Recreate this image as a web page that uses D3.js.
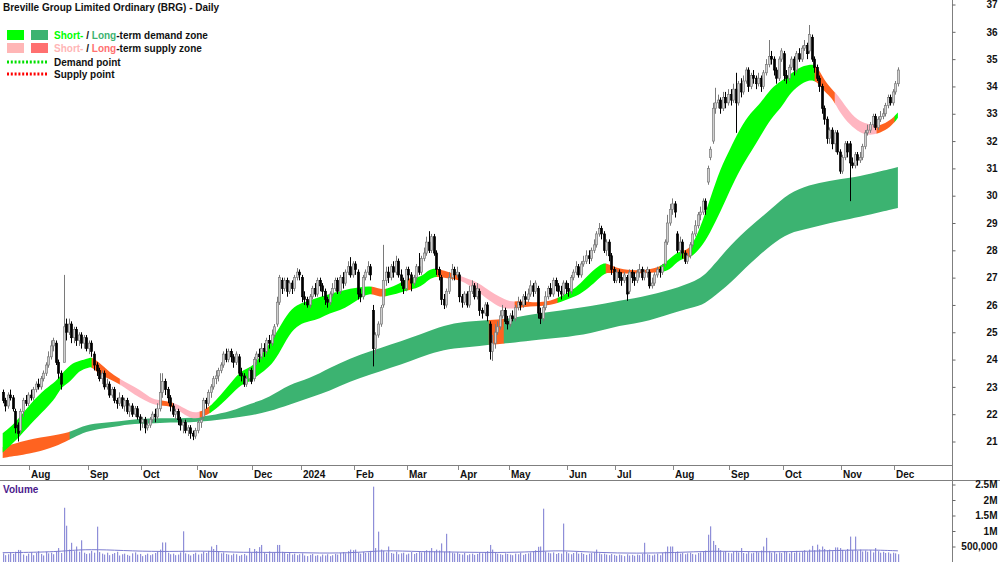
<!DOCTYPE html>
<html><head><meta charset="utf-8">
<script src="https://cdn.jsdelivr.net/npm/d3@7"></script>
<style>html,body{margin:0;padding:0;background:#fff;}svg{display:block;font-family:"Liberation Sans",Arial,sans-serif;}</style>
</head><body><svg id="c" width="1000" height="562"></svg>
<script>
// ---- Daily candles, 17 Jul 2023 .. 3 Dec 2024 (trading days) ----
const opens=[22.8,22.5,22.3,22.7,22.6,22.1,21.6,21.4,22.1,22.5,
22.4,22.7,22.6,22.9,23.1,23.0,23.3,23.5,23.8,24.1,
24.5,24.6,23.9,23.5,23.9,25.3,25.0,25.3,24.8,25.1,
24.7,24.9,24.6,24.8,24.4,24.6,24.2,23.8,23.6,23.3,
23.5,23.0,23.1,22.7,22.9,22.5,22.4,22.6,22.3,22.5,
22.1,22.3,22.0,22.2,21.9,21.7,21.8,21.5,21.6,21.8,
22.0,21.9,22.2,22.8,23.2,22.9,22.6,22.3,22.0,22.1,
21.8,21.6,21.7,21.4,21.5,21.3,21.2,21.4,21.7,21.9,
22.5,22.4,22.8,23.0,23.3,23.4,23.6,23.8,24.2,24.0,
24.3,24.1,23.9,24.1,23.5,23.4,23.1,23.3,23.6,23.3,
24.0,24.2,24.1,24.4,24.3,24.7,24.6,24.9,25.3,26.1,
26.9,26.6,26.9,26.5,26.8,26.6,27.0,27.2,27.0,26.3,
26.2,26.0,26.3,26.6,26.4,26.9,26.7,26.5,26.2,26.1,
26.4,26.6,26.9,26.5,27.0,26.8,27.2,27.4,27.1,27.5,
27.2,26.4,26.3,27.0,27.2,27.4,25.8,24.4,24.9,25.3,
26.0,26.9,27.2,27.0,27.4,27.2,27.6,27.1,26.9,26.6,
27.3,27.1,26.8,27.0,27.4,27.2,27.7,27.9,28.3,28.0,
28.5,27.9,27.3,27.0,26.2,26.0,26.5,27.0,27.3,27.1,
27.1,26.3,26.1,26.4,26.0,26.5,26.7,26.3,26.5,25.8,
25.7,26.0,25.3,24.3,24.6,25.0,25.2,25.6,25.8,25.4,
25.3,25.6,25.5,25.9,26.1,26.0,26.3,26.2,26.4,26.7,
26.5,26.6,25.7,25.5,25.9,26.3,26.6,26.4,26.9,26.7,
26.5,26.4,26.8,26.6,26.5,27.0,27.2,27.4,27.1,27.5,
27.6,27.8,27.7,28.0,28.2,28.6,28.8,28.6,28.0,28.3,
27.8,27.3,26.9,27.2,27.0,26.9,27.0,26.5,27.2,27.0,
26.9,27.2,27.3,27.0,27.2,27.2,26.7,26.8,27.1,27.3,
27.2,27.5,28.3,29.0,29.5,29.7,28.6,28.0,28.3,27.9,
27.6,27.8,28.2,28.6,28.9,29.3,29.4,29.8,30.5,31.4,
32.0,33.2,33.4,33.5,33.2,33.6,33.4,33.7,33.5,33.9,
33.4,34.1,33.8,34.2,34.6,34.0,34.4,34.3,34.1,34.3,
34.0,34.5,34.8,35.1,35.0,34.6,34.3,35.0,35.2,34.4,
34.3,34.7,35.0,34.6,35.2,35.0,35.4,35.5,35.3,35.8,
35.0,34.7,34.3,34.0,33.2,32.8,32.1,32.4,31.9,32.3,
31.6,30.9,31.4,31.9,31.9,31.2,31.1,31.5,31.3,31.4,
31.8,32.3,32.4,32.6,32.9,32.5,32.8,32.9,33.0,33.3,
33.6,33.4,33.8,34.1];
const highs=[22.9,22.6,22.8,22.9,22.7,22.2,21.7,22.2,22.6,22.7,
22.8,22.9,23.0,23.2,23.3,23.4,23.6,23.9,24.3,24.7,
24.8,24.7,24.0,23.6,27.1,25.5,25.5,25.4,25.2,25.2,
25.0,25.0,24.9,24.9,24.7,24.7,24.3,23.9,23.7,23.6,
23.6,23.3,23.2,23.0,23.0,22.6,22.8,22.7,22.6,22.6,
22.4,22.4,22.3,22.3,22.0,21.9,21.9,21.8,21.9,22.1,
22.2,22.4,23.5,23.5,23.3,23.0,22.7,22.4,22.2,22.2,
21.9,21.8,21.8,21.6,21.6,21.4,21.5,21.8,21.9,22.6,
22.6,22.9,23.1,23.4,23.6,23.7,23.9,24.3,24.4,24.4,
24.4,24.2,24.3,24.2,23.7,23.5,23.4,23.7,23.7,24.1,
24.3,24.4,24.6,24.6,24.8,24.9,25.1,25.3,26.3,27.1,
27.0,27.0,27.0,26.9,26.9,27.1,27.35,27.3,27.1,26.5,
26.3,26.4,26.7,26.8,27.0,27.0,26.8,26.6,26.3,26.5,
26.8,27.0,27.0,27.1,27.2,27.3,27.6,27.75,27.6,27.6,
27.3,26.6,27.1,27.3,27.6,27.5,26.0,25.0,25.4,26.0,
28.2,27.4,27.4,27.5,27.6,27.8,27.7,27.3,27.0,27.4,
27.4,27.2,27.1,27.5,27.9,27.8,28.1,28.5,28.7,28.6,
28.6,28.0,27.4,27.1,26.4,26.6,27.2,27.5,27.4,27.4,
27.2,26.4,26.5,26.5,26.7,26.9,26.8,26.8,26.6,25.9,
26.1,26.1,25.4,24.9,25.3,25.4,25.8,26.0,25.9,25.6,
25.7,25.8,26.0,26.3,26.2,26.4,26.5,26.6,26.9,26.8,
26.9,26.7,25.9,26.0,26.5,26.7,26.8,27.0,27.0,26.8,
26.7,26.9,26.9,26.8,27.1,27.3,27.6,27.5,27.6,27.8,
28.0,28.0,28.1,28.4,28.7,29.0,28.9,28.7,28.4,28.4,
27.9,27.4,27.3,27.3,27.2,27.2,27.1,27.3,27.3,27.2,
27.3,27.5,27.4,27.3,27.4,27.3,27.0,27.2,27.4,27.4,
27.5,28.4,29.3,29.7,29.9,29.8,28.7,28.5,28.4,28.0,
27.9,28.3,28.7,29.1,29.4,29.6,29.9,29.9,31.1,31.8,
33.4,33.95,33.7,33.6,33.8,33.8,33.9,33.9,34.1,34.5,
34.2,34.3,34.4,34.7,34.7,34.5,34.6,34.4,34.5,34.4,
34.6,35.0,35.7,35.3,35.1,34.7,35.1,35.4,35.3,34.6,
34.8,35.1,35.1,35.3,35.4,35.5,35.7,35.6,36.25,35.9,
35.1,34.8,34.4,34.1,33.3,32.9,32.5,32.5,32.4,32.4,
31.7,31.5,32.0,32.0,32.0,31.4,31.6,31.6,31.6,31.9,
32.4,32.6,32.7,33.0,33.0,32.9,33.1,33.2,33.4,33.7,
33.7,33.9,34.2,34.7];
const lows=[22.4,22.1,22.2,22.5,22.1,21.3,21.0,21.3,21.9,22.3,
22.3,22.5,22.5,22.8,22.9,22.9,23.2,23.4,23.7,24.0,
24.3,23.8,23.3,22.9,23.9,24.7,24.9,24.6,24.6,24.5,
24.5,24.4,24.4,24.3,24.2,24.1,23.6,23.4,23.2,23.1,
22.9,22.9,22.6,22.6,22.4,22.2,22.3,22.2,22.1,22.0,
21.9,21.9,21.9,21.8,21.4,21.5,21.3,21.4,21.5,21.7,
21.7,21.8,22.1,22.6,22.7,22.4,22.1,21.9,21.8,21.6,
21.4,21.3,21.3,21.2,21.1,21.05,21.1,21.3,21.5,21.8,
22.2,22.3,22.6,22.9,23.1,23.2,23.5,23.7,23.9,23.9,
23.9,23.7,23.8,23.4,23.2,23.0,23.0,23.2,23.1,23.2,
23.8,23.9,24.0,24.1,24.2,24.4,24.5,24.8,25.2,26.0,
26.4,26.5,26.3,26.4,26.4,26.5,26.9,26.9,26.1,26.0,
25.9,25.9,26.2,26.3,26.3,26.5,26.3,26.0,25.9,26.0,
26.3,26.5,26.4,26.4,26.6,26.7,27.1,27.0,27.0,27.1,
26.2,26.1,26.2,26.9,27.1,26.9,23.75,24.2,24.8,25.2,
25.9,26.7,26.8,26.9,27.0,27.1,27.0,26.7,26.4,26.5,
26.9,26.5,26.7,26.9,27.1,27.1,27.6,27.8,27.9,27.9,
27.8,27.1,26.9,26.0,25.85,25.9,26.4,26.9,26.9,27.0,
26.1,25.9,26.0,25.9,25.9,26.4,26.2,26.2,25.6,25.5,
25.6,25.4,24.0,23.95,24.4,24.9,25.1,25.5,25.3,25.1,
25.2,25.4,25.4,25.8,25.8,25.9,26.0,26.1,26.3,26.3,
26.4,25.5,25.3,25.4,25.8,26.2,26.3,26.3,26.5,26.3,
26.2,26.3,26.4,26.3,26.4,26.9,27.1,27.0,27.0,27.4,
27.5,27.5,27.6,27.9,28.1,28.5,28.4,27.9,27.8,27.6,
27.1,26.8,26.8,26.8,26.7,26.8,26.15,26.4,26.8,26.7,
26.8,27.0,26.9,26.9,27.0,26.6,26.6,26.7,27.0,27.0,
27.1,27.4,28.2,28.9,29.3,29.2,27.9,27.8,27.7,27.5,
27.5,27.7,28.1,28.5,28.8,29.1,29.3,29.3,30.4,31.3,
31.9,33.0,33.2,33.0,33.1,33.2,33.3,33.3,33.4,32.3,
33.3,33.6,33.7,34.1,33.8,33.9,34.1,33.9,34.0,33.8,
33.9,34.4,34.7,34.8,34.4,34.1,34.2,34.9,34.2,34.1,
34.2,34.6,34.4,34.5,34.9,34.9,35.3,35.0,35.2,34.9,
34.5,34.2,33.8,33.0,32.6,31.9,31.9,31.7,31.6,31.5,
30.8,30.8,31.3,31.4,29.8,31.0,31.0,31.1,31.2,31.3,
31.7,32.2,32.3,32.5,32.4,32.4,32.7,32.8,32.9,33.2,
33.3,33.3,33.7,34.0];
const closes=[22.5,22.3,22.7,22.6,22.2,21.5,21.3,22.1,22.5,22.4,
22.7,22.6,22.9,23.1,23.0,23.3,23.5,23.8,24.1,24.5,
24.7,23.9,23.5,23.1,25.2,25.0,25.3,24.8,25.1,24.7,
24.9,24.6,24.8,24.4,24.6,24.3,23.8,23.6,23.3,23.5,
23.0,23.1,22.7,22.9,22.5,22.4,22.6,22.3,22.5,22.1,
22.3,22.0,22.2,21.9,21.7,21.8,21.5,21.6,21.8,22.0,
21.9,22.2,22.8,23.2,22.9,22.6,22.3,22.0,22.1,21.8,
21.6,21.7,21.4,21.5,21.3,21.2,21.4,21.7,21.8,22.5,
22.4,22.8,23.0,23.3,23.4,23.6,23.8,24.2,24.0,24.3,
24.1,23.9,24.2,23.5,23.4,23.1,23.3,23.6,23.2,24.0,
24.2,24.1,24.4,24.3,24.7,24.6,24.9,25.2,26.1,27.0,
26.6,26.9,26.5,26.8,26.6,27.0,27.2,27.1,26.3,26.2,
26.0,26.3,26.6,26.4,26.9,26.7,26.5,26.2,26.1,26.4,
26.6,26.9,26.5,27.0,26.8,27.2,27.4,27.1,27.5,27.3,
26.4,26.3,27.0,27.2,27.4,27.1,24.4,24.9,25.3,25.9,
26.9,27.2,27.0,27.4,27.2,27.6,27.1,26.9,26.6,27.3,
27.1,26.8,27.0,27.4,27.2,27.7,27.9,28.3,28.0,28.5,
27.9,27.3,27.1,26.2,26.0,26.5,27.0,27.3,27.1,27.2,
26.3,26.1,26.4,26.0,26.5,26.7,26.3,26.6,25.8,25.7,
26.0,25.6,24.3,24.6,25.0,25.2,25.6,25.8,25.4,25.3,
25.6,25.5,25.9,26.1,26.0,26.3,26.2,26.4,26.7,26.5,
26.8,25.7,25.5,25.9,26.3,26.6,26.4,26.9,26.7,26.5,
26.4,26.8,26.6,26.5,27.0,27.2,27.4,27.1,27.5,27.6,
27.8,27.7,28.0,28.2,28.6,28.8,28.6,28.0,28.3,27.8,
27.3,26.9,27.2,27.0,26.9,27.1,26.4,27.2,27.0,26.9,
27.2,27.3,27.0,27.2,27.3,26.7,26.8,27.1,27.3,27.2,
27.4,28.3,29.0,29.5,29.7,29.4,28.0,28.3,27.9,27.6,
27.8,28.2,28.6,28.9,29.3,29.4,29.8,29.5,31.0,31.7,
33.2,33.4,33.5,33.2,33.6,33.4,33.7,33.5,33.9,33.4,
34.1,33.8,34.2,34.6,34.0,34.4,34.3,34.1,34.3,34.0,
34.5,34.8,35.1,35.0,34.6,34.3,35.0,35.3,34.4,34.3,
34.7,35.0,34.6,35.2,35.0,35.4,35.5,35.2,35.9,35.0,
34.7,34.3,34.0,33.2,32.8,32.1,32.4,31.9,32.3,31.6,
30.9,31.4,31.9,31.6,31.2,31.1,31.5,31.3,31.4,31.8,
32.3,32.4,32.6,32.9,32.5,32.8,32.9,33.0,33.3,33.6,
33.4,33.8,34.1,34.6];
// volume in millions of shares
const volumes=[0.28,0.22,0.25,0.30,0.26,0.33,0.39,0.38,0.24,0.20,
0.27,0.31,0.22,0.29,0.35,0.26,0.21,0.33,0.28,0.30,
0.25,0.34,0.45,0.29,1.75,1.17,0.40,0.62,0.35,0.50,
0.33,0.70,0.30,0.26,0.28,0.36,0.30,1.14,0.32,0.27,
0.24,0.30,0.22,0.26,0.29,0.33,0.21,0.25,0.27,0.23,
0.20,0.28,0.31,0.24,0.26,0.19,0.23,0.27,0.22,0.25,
0.29,0.34,0.40,0.63,0.63,0.30,0.25,0.27,0.22,0.24,
0.31,0.99,0.28,0.25,0.21,0.26,0.30,0.24,0.27,0.33,
0.29,0.36,0.50,0.42,0.55,0.33,0.28,0.31,0.26,0.24,
0.22,0.27,0.25,0.20,0.23,0.26,0.21,0.45,0.30,0.42,
0.35,0.48,0.55,0.30,0.26,0.34,0.29,0.31,0.55,0.55,
0.33,0.29,0.26,0.30,0.24,0.27,0.22,0.25,0.28,0.21,
0.19,0.23,0.26,0.20,0.22,0.18,0.24,0.21,0.25,0.19,
0.22,0.26,0.24,0.29,0.32,0.28,0.35,0.40,0.38,0.40,
0.30,0.27,0.33,0.29,0.31,0.36,2.43,0.45,0.98,0.40,
0.36,0.31,0.50,0.29,0.27,0.33,0.25,0.28,0.30,0.24,
0.27,0.32,0.26,0.29,0.35,0.31,0.33,0.38,0.36,0.45,
0.34,0.40,0.37,0.60,0.33,0.91,0.35,0.30,0.28,0.31,
0.26,0.24,0.29,0.22,0.25,0.27,0.23,0.26,0.30,0.28,
0.32,0.35,0.55,0.40,0.30,0.27,0.25,0.23,0.28,0.26,
0.24,0.22,0.27,0.25,0.30,0.23,0.26,0.28,0.31,0.35,
0.38,0.49,0.50,1.72,0.33,0.30,0.28,0.31,0.26,0.29,
0.27,1.24,0.33,0.28,0.25,0.29,0.32,0.27,0.30,0.26,
0.23,0.27,0.29,0.31,0.40,0.28,0.25,0.27,0.24,0.22,
0.26,0.23,0.20,0.24,0.22,0.19,0.25,0.21,0.23,0.20,
0.24,0.22,0.26,0.62,0.25,0.23,0.21,0.24,0.27,0.22,
0.29,0.33,0.50,0.50,0.50,0.31,0.34,0.27,0.29,0.25,
0.28,0.30,0.26,0.24,0.29,0.31,0.33,0.37,0.88,1.15,
0.68,0.55,0.45,0.38,0.32,0.35,0.30,0.28,0.33,0.36,
0.31,0.45,0.29,0.27,0.32,0.28,0.30,0.34,0.31,0.37,
0.50,0.78,0.36,0.30,0.33,0.27,0.31,0.29,0.35,0.32,
0.28,0.33,0.30,0.36,0.31,0.34,0.38,0.33,0.40,0.52,
0.38,0.56,0.41,0.50,0.42,0.37,0.40,0.35,0.47,0.47,
0.45,0.39,0.36,0.42,0.82,0.38,0.82,0.36,0.40,0.34,
0.37,0.33,0.38,0.31,0.45,0.35,0.30,0.33,0.29,0.31,
0.27,0.30,0.28,0.25];
// volume moving average (millions), sampled at trading-day index
const volMaIdx=[0,20,30,40,55,70,80,95,110,125,140,150,165,180,195,210,220,235,250,265,280,295,310,325,340,353];
const volMa=[0.30,0.32,0.40,0.40,0.34,0.34,0.36,0.30,0.32,0.28,0.30,0.38,0.33,0.32,0.30,0.33,0.38,0.30,0.28,0.30,0.36,0.33,0.33,0.36,0.40,0.36];

// short-term zone (upper / lower edge), sampled at trading-day index
const shortIdx=[0,5,11,17,21,23,27,30,34,35,38,42,46,50,54,58,62,67,72,76,80,82,86,90,94,98,101,105,109,113,117,121,125,129,133,137,141,145,148,151,157,160,165,168,171,174,178,182,188,192,196,200,204,208,212,216,220,224,228,232,236,238,243,251,259,263,267,271,275,279,283,287,291,295,299,303,307,310,314,318,321,324,327,330,334,338,342,346,350,353];
const shortHi=[21.3,21.67,22.4,22.95,23.2,23.45,23.85,23.95,24.05,24.1,23.9,23.55,23.3,23.1,22.9,22.6,22.5,22.45,22.2,22.0,22.2,22.3,22.7,23.15,23.6,23.7,24.05,24.55,25.15,25.8,26.05,26.15,26.3,26.4,26.5,26.6,26.65,26.7,26.6,26.55,26.8,27.0,27.0,27.3,27.35,27.25,27.15,27.0,26.8,26.5,26.3,26.1,26.15,26.1,26.1,26.15,26.3,26.5,26.8,27.2,27.5,27.55,27.3,27.25,27.35,27.7,28.0,28.0,28.8,29.9,31.0,31.75,32.5,33.05,33.4,33.95,34.2,34.4,34.7,34.8,34.8,34.2,33.9,33.6,33.05,32.7,32.6,32.55,32.75,33.05];
const shortLo=[20.6,21.0,21.65,22.2,22.6,23.0,23.2,23.6,23.7,23.75,23.45,23.3,23.1,22.85,22.6,22.4,22.3,22.3,21.95,21.8,21.95,22.05,22.35,22.7,23.1,23.2,23.45,23.7,24.2,24.95,25.3,25.4,25.5,25.7,25.8,26.0,26.25,26.45,26.3,26.3,26.45,26.55,26.65,26.95,27.05,27.0,26.95,26.85,26.45,26.15,25.9,25.85,25.9,25.95,25.95,26.0,26.1,26.25,26.4,26.7,27.05,27.2,27.15,27.15,27.2,27.25,27.7,27.7,28.05,28.65,29.4,30.25,31.0,31.6,32.2,32.85,33.2,33.7,34.05,34.25,34.2,33.8,33.6,33.05,32.6,32.3,32.2,32.3,32.5,32.85];
const shortRunStart=[0,35.2,46.3,62,67.2,77.8,81.7,145.6,151.1,159.8,161.4,171.3,180.3,202,218.9,237.9,259.2,268.6,271,320.3,328.2,344.7,351.8];
const shortRunZone=["demand","mixed","supply","mixed","supply","mixed","demand","mixed","demand","mixed","demand","mixed","supply","mixed","demand","mixed","demand","mixed","demand","mixed","supply","mixed","demand"];

// long-term zone
const longIdx=[0,11,19,25,29,34,42,50,58,66,74,82,90,98,105,113,121,129,137,145,153,161,168,176,184,192,200,208,220,232,243,255,267,275,279,287,295,303,310,318,326,334,342,353];
const longHi=[20.8,21.1,21.2,21.3,21.45,21.65,21.7,21.8,21.85,21.85,21.85,21.95,22.1,22.4,22.6,23.1,23.3,23.7,24.05,24.3,24.55,24.8,25.05,25.3,25.4,25.45,25.5,25.65,25.8,25.95,26.15,26.35,26.65,26.95,27.3,28.2,28.9,29.5,30.1,30.4,30.55,30.65,30.8,31.05];
const longLo=[20.4,20.55,20.75,21.0,21.2,21.4,21.5,21.65,21.65,21.7,21.7,21.75,21.85,21.95,22.1,22.35,22.6,22.85,23.2,23.45,23.7,23.95,24.2,24.4,24.45,24.55,24.6,24.7,24.8,24.95,25.25,25.4,25.8,25.95,26.2,26.8,27.55,28.2,28.65,28.8,29.0,29.15,29.3,29.55];
const longRunStart=[0,26.5,191.8,197.7];
const longRunZone=["mixed","demand","mixed","demand"];

// axis labels
const monthLabels=["Aug","Sep","Oct","Nov","Dec","2024","Feb","Mar","Apr","May","Jun","Jul","Aug","Sep","Oct","Nov","Dec"];
const monthStarts=[11,34,55,77,99,118,139,160,180,200,223,242,265,287,308,331,352];
const priceTicks=[21,22,23,24,25,26,27,28,29,30,31,32,33,34,35,36,37];
const volTicks=[500000,1000000,1500000,2000000,2500000];

// ---------------------------------------------------------------
const W=1000,H=562,AX=952;
const C={shortDemand:"#00ff00",longDemand:"#3cb371",shortSupply:"#ffb6b6",longSupply:"#ff7070",mixed:"#ff6320",pink:"#ffb6c1"};
const svg=d3.select("#c");
svg.append("rect").attr("width",W).attr("height",H).attr("fill","#fff");
const defs=svg.append("defs");
const N=closes.length;
const x=d3.scaleBand().domain(d3.range(N)).range([1.43,1.43+N*2.536]);
const xc=i=>x(i)+x.bandwidth()/2;
const xf=d3.scaleLinear().domain([0,N-1]).range([xc(0),xc(N-1)]);
const y=d3.scaleLinear().domain([21,37]).range([441.5,4.5]);
const vy=d3.scaleLinear().domain([0,2500000]).range([562,484.5]);

function drawZone(idx,hi,lo,runStart,runZone,colorOf,name){
  const area=d3.area().x(k=>xf(idx[k])).y0(k=>y(lo[k])).y1(k=>y(hi[k])).curve(d3.curveBasis);
  const dPath=area(d3.range(idx.length));
  runStart.forEach((s,k)=>{
    const e=k+1<runStart.length?runStart[k+1]:N-1;
    const x0=k===0?0:xf(s)-0.3, x1=k+1<runStart.length?xf(e)+0.3:AX;
    const id=name+k;
    defs.append("clipPath").attr("id",id).append("rect").attr("x",x0).attr("y",0).attr("width",Math.max(0,x1-x0)).attr("height",470);
    svg.append("path").attr("d",dPath).attr("fill",colorOf(runZone[k])).attr("clip-path",`url(#${id})`);
  });
}
drawZone(longIdx,longHi,longLo,longRunStart,longRunZone,z=>z==="demand"?C.longDemand:C.mixed,"lz");
drawZone(shortIdx,shortHi,shortLo,shortRunStart,shortRunZone,z=>z==="demand"?C.shortDemand:(z==="supply"?C.pink:C.mixed),"sz");

// candles
const cg=svg.append("g");
d3.range(N).forEach(i=>{
  const up=closes[i]>=opens[i];
  const cx=Math.round(xc(i));
  cg.append("line").attr("x1",cx+0.5).attr("x2",cx+0.5).attr("y1",y(highs[i])).attr("y2",y(lows[i]))
    .attr("stroke",up?"#7a7a7a":"#000").attr("stroke-width",1);
  const top=y(Math.max(opens[i],closes[i])),bot=y(Math.min(opens[i],closes[i]));
  cg.append("rect").attr("x",cx-0.5).attr("y",top).attr("width",2).attr("height",Math.max(1,bot-top))
    .attr("fill",up?"#d0d0d0":"#000").attr("stroke",up?"#7a7a7a":"#000").attr("stroke-width",0.7);
});

// frame lines
svg.append("line").attr("x1",AX+0.5).attr("x2",AX+0.5).attr("y1",0).attr("y2",H).attr("stroke","#7f7f7f");
svg.append("line").attr("x1",0).attr("x2",AX).attr("y1",465.5).attr("y2",465.5).attr("stroke","#7f7f7f");
svg.append("line").attr("x1",0).attr("x2",W).attr("y1",480.5).attr("y2",480.5).attr("stroke","#7f7f7f");

// month axis
const mg=svg.append("g");
monthStarts.forEach((m,k)=>{
  const tx=Math.round(x(m))+0.5;
  mg.append("line").attr("x1",tx).attr("x2",tx).attr("y1",466).attr("y2",470).attr("stroke","#888");
  mg.append("text").attr("x",tx+1.5).attr("y",477.5).text(monthLabels[k])
    .attr("font-size",10).attr("font-weight","bold").attr("fill","#111");
});

// price axis
const pa=svg.append("g").attr("transform",`translate(${AX+0.5},0)`)
  .call(d3.axisRight(y).tickValues(priceTicks).tickSize(3).tickFormat(d3.format("d")));
pa.select(".domain").remove();
pa.selectAll("line").attr("stroke","#666");
pa.selectAll("text").attr("x",45).attr("text-anchor","end").attr("font-size",10).attr("font-weight","bold")
  .attr("font-family","'Liberation Sans',Arial,sans-serif").attr("fill","#111");

// volume
const vg=svg.append("g");
volumes.forEach((v,i)=>{
  const cx=Math.round(xc(i));
  vg.append("rect").attr("x",cx).attr("y",vy(v*1e6)).attr("width",1.2).attr("height",562-vy(v*1e6)).attr("fill","#8e8ed8");
});
const vline=d3.line().x(k=>xf(volMaIdx[k])).y(k=>vy(volMa[k]*1e6)).curve(d3.curveBasis);
svg.append("path").attr("d",vline(d3.range(volMaIdx.length))).attr("fill","none").attr("stroke","#7b7bd0").attr("stroke-width",1);
const va=svg.append("g").attr("transform",`translate(${AX+0.5},0)`)
  .call(d3.axisRight(vy).tickValues(volTicks).tickSize(3).tickFormat(v=>v===500000?"500,000":(v/1e6)+"M"));
va.select(".domain").remove();
va.selectAll("line").attr("stroke","#666");
va.selectAll("text").attr("x",45).attr("text-anchor","end").attr("font-size",10).attr("font-weight","bold")
  .attr("font-family","'Liberation Sans',Arial,sans-serif").attr("fill","#111");
svg.append("text").attr("x",3).attr("y",493).text("Volume").attr("font-size",10).attr("font-weight","bold").attr("fill","#4b1a8c");

// title + legend
svg.append("text").attr("x",3).attr("y",11).text("Breville Group Limited Ordinary (BRG) - Daily")
  .attr("font-size",10).attr("font-weight","bold").attr("fill","#111");
const lg=svg.append("g").attr("font-size",10).attr("font-weight","bold");
lg.append("rect").attr("x",7).attr("y",30).attr("width",17).attr("height",10).attr("fill",C.shortDemand);
lg.append("rect").attr("x",31).attr("y",30).attr("width",17).attr("height",10).attr("fill",C.longDemand);
lg.append("rect").attr("x",7).attr("y",43).attr("width",17).attr("height",10).attr("fill",C.shortSupply);
lg.append("rect").attr("x",31).attr("y",43).attr("width",17).attr("height",10).attr("fill",C.longSupply);
const t1=lg.append("text").attr("x",54).attr("y",39);
t1.append("tspan").attr("fill",C.shortDemand).text("Short-");
t1.append("tspan").attr("fill","#111").text(" / ");
t1.append("tspan").attr("fill",C.longDemand).text("Long");
t1.append("tspan").attr("fill","#111").text("-term demand zone");
const t2=lg.append("text").attr("x",54).attr("y",52);
t2.append("tspan").attr("fill",C.shortSupply).text("Short-");
t2.append("tspan").attr("fill","#111").text(" / ");
t2.append("tspan").attr("fill",C.longSupply).text("Long");
t2.append("tspan").attr("fill","#111").text("-term supply zone");
lg.append("line").attr("x1",7).attr("x2",48).attr("y1",62).attr("y2",62).attr("stroke","#00e000").attr("stroke-width",3).attr("stroke-dasharray","2,1.8");
lg.append("line").attr("x1",7).attr("x2",48).attr("y1",74).attr("y2",74).attr("stroke","#ff0000").attr("stroke-width",3).attr("stroke-dasharray","2,1.8");
lg.append("text").attr("x",54).attr("y",65.5).attr("fill","#111").text("Demand point");
lg.append("text").attr("x",54).attr("y",77.5).attr("fill","#111").text("Supply point");
</script></body></html>
